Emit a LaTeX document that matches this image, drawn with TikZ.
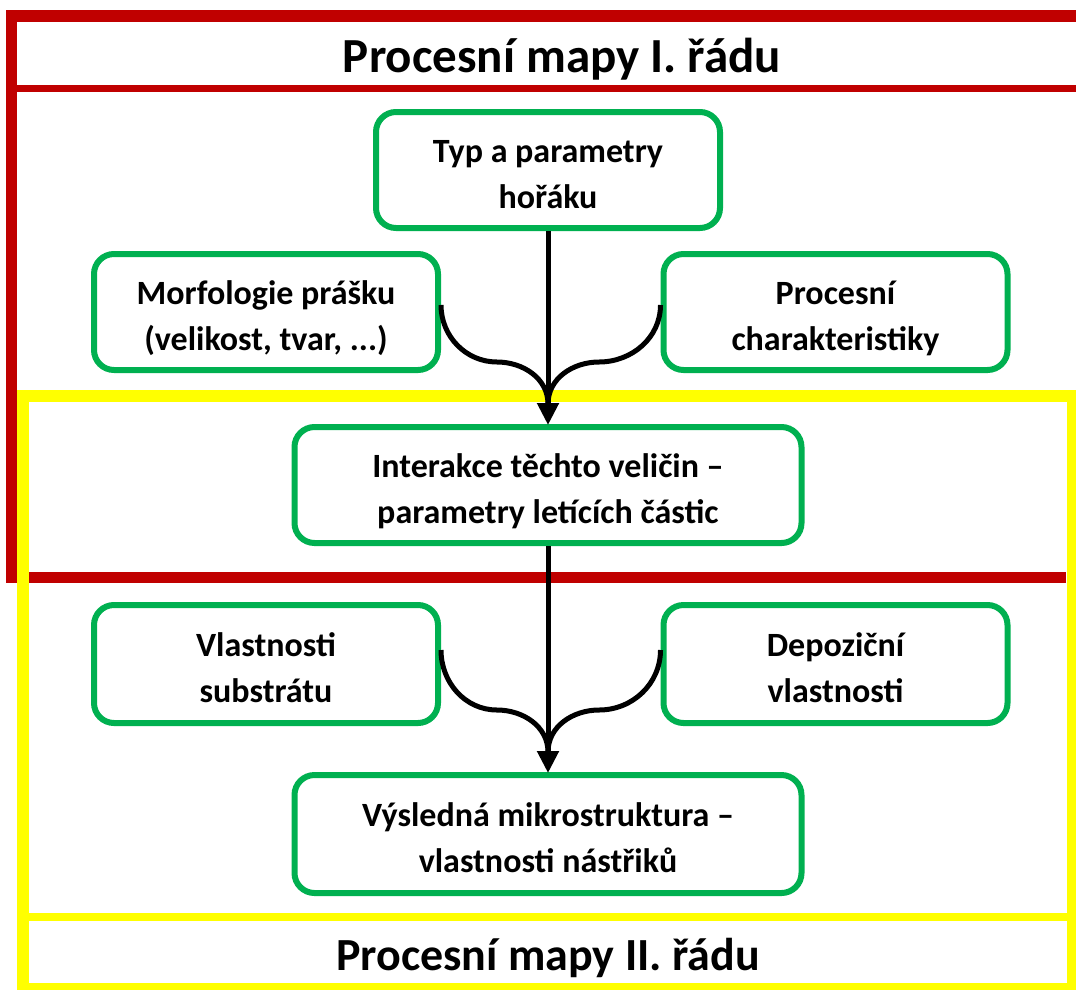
\documentclass[tikz,border=0pt]{standalone}
\usepackage{fontspec}
\setmainfont{Carlito}
\usetikzlibrary{arrows.meta}
\definecolor{frameRed}{RGB}{192,0,0}
\definecolor{frameYellow}{RGB}{255,255,0}
\definecolor{boxGreen}{RGB}{0,176,80}
\begin{document}
\begin{tikzpicture}[x=1pt,y=-1pt,
  box/.style={draw=boxGreen, line width=6pt, rounded corners=20pt, fill=white,
    align=center, inner sep=0pt, text height=76pt, text depth=0pt,
    font=\fontsize{34}{46}\selectfont\bfseries},
  title/.style={font=\fontsize{49}{56}\selectfont\bfseries, inner sep=0pt, anchor=base},
  flow/.style={line width=5pt, black},
  tip/.style={-{Triangle[length=22pt,width=21pt]}}]
\useasboundingbox (0,0) rectangle (1076,989);
\begin{scope}
\clip (0,0) rectangle (1076,989);
% first-order frame (red)
\draw[frameRed, line width=12pt] (6,16) -- (1090,16);
\draw[frameRed, line width=11pt] (11.5,10) -- (11.5,583);
\draw[frameRed, line width=7pt] (17,88.5) -- (1090,88.5);
\draw[frameRed, line width=11pt] (6,577.5) -- (1066,577.5);
% second-order frame (yellow)
\draw[frameYellow, line width=12pt] (17,396) -- (1090,396);
\draw[frameYellow, line width=12pt] (23,390) -- (23,1000);
\draw[frameYellow, line width=11pt] (1072.5,390) -- (1072.5,1000);
\draw[frameYellow, line width=8pt] (29,917) -- (1067,917);
\draw[frameYellow, line width=12pt] (17,989) -- (1090,989);
\end{scope}
% headings
\node[title] (hdrI) at (562,72) {Procesní mapy I. řádu};
\node[title, font=\fontsize{46}{54}\selectfont\bfseries] (hdrII) at (548,970) {Procesní mapy II. řádu};
% boxes
\node[box, minimum width=344pt, minimum height=116pt] (typ) at (548,170)
  {Typ a parametry\\hořáku};
\node[box, minimum width=344pt, minimum height=116pt] (morf) at (266,312)
  {Morfologie prášku\\(velikost, tvar, ...)};
\node[box, minimum width=344pt, minimum height=116pt] (proc) at (835.5,312)
  {Procesní\\charakteristiky};
\node[box, minimum width=507pt, minimum height=116pt] (inter) at (548,485)
  {Interakce těchto veličin –\\parametry letících částic};
\node[box, minimum width=344pt, minimum height=118pt] (vlast) at (266,664)
  {Vlastnosti\\substrátu};
\node[box, minimum width=344pt, minimum height=118pt] (depo) at (835.5,664)
  {Depoziční\\vlastnosti};
\node[box, minimum width=507pt, minimum height=118pt] (vysl) at (548,834)
  {Výsledná mikrostruktura –\\vlastnosti nástřiků};
% merging arrows, first order
\draw[flow] ([yshift=7pt]morf.east) to[out=-90,in=180] (497,362)
  to[out=0,in=90] ([yshift=20pt]inter.north);
\draw[flow] ([yshift=7pt]proc.west) to[out=-90,in=0] (599,362)
  to[out=180,in=90] ([yshift=20pt]inter.north);
\draw[flow, tip] (typ.south) -- ([yshift=-1pt]inter.north);
% merging arrows, second order
\draw[flow] ([yshift=14pt]vlast.east) to[out=-90,in=180] (497,710)
  to[out=0,in=90] ([yshift=20pt]vysl.north);
\draw[flow] ([yshift=14pt]depo.west) to[out=-90,in=0] (599,710)
  to[out=180,in=90] ([yshift=20pt]vysl.north);
\draw[flow, tip] (inter.south) -- ([yshift=-1pt]vysl.north);
\end{tikzpicture}
\end{document}
